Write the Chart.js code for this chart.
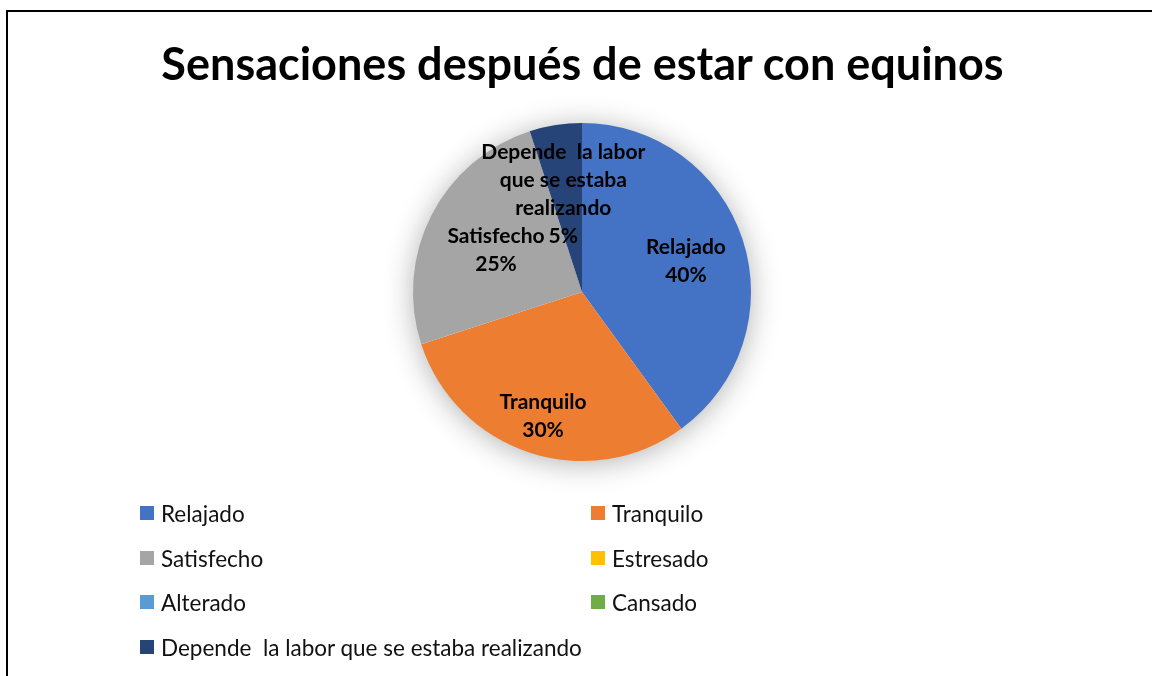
<!DOCTYPE html>
<html>
<head>
<meta charset="utf-8">
<script src="https://cdn.jsdelivr.net/npm/chart.js@4"></script>
<style>
  body { margin:0; background:#fff; font-family: Lato, "Open Sans", sans-serif; overflow:hidden; }
  #wrap { position:relative; width:1152px; height:676px; overflow:hidden; }
  #frame { position:absolute; left:6px; top:10px; width:1400px; height:900px; border:2px solid #000; border-right:none; border-bottom:none; box-sizing:border-box; }
  #title { position:absolute; left:0; top:38px; width:1165px; text-align:center; font-weight:bold; font-size:45px; line-height:50px; color:#000; }
  canvas { position:absolute; left:0; top:0; }
  .leg { position:absolute; font-size:22.5px; color:#111; line-height:24px; white-space:pre; }
  .leg span { position:absolute; left:0; top:0; width:14px; height:14px; }
  .leg b { font-weight:normal; position:absolute; left:21px; top:-4px; }
</style>
</head>
<body>
<div id="wrap">
  <div id="frame"></div>
  <canvas id="mycanvas1" width="1152" height="676"></canvas>
  <div id="title">Sensaciones después de estar con equinos</div>
  <div id="legend"></div>
</div>
<script>
var categorias = ["Relajado", "Tranquilo", "Satisfecho", "Estresado", "Alterado", "Cansado", "Depende  la labor que se estaba realizando"];
var porcentajes = [40, 30, 25, 0, 0, 0, 5];
var colores = ["#4472C4", "#ED7D31", "#A5A5A5", "#FFC000", "#5B9BD5", "#70AD47", "#264478"];
var etiquetas = [
	["Relajado", "40%"],
	["Tranquilo", "30%"],
	["Satisfecho", "25%"],
	[], [], [],
	["Depende  la labor", "que se estaba", "realizando", "5%"]
];

// where each label sits: fraction of radius, and a small angle nudge (deg)
var labelDist = [0.642, 0.772, 0.566, 0, 0, 0, 0.59];
var labelNudge = [1.4, -0.6, -1, 0, 0, 0, -1.8];

var sombra = {
	id: 'sombra',
	beforeDatasetsDraw: function(chart) {
		var arc = chart.getDatasetMeta(0).data[0];
		var ctx = chart.ctx;
		ctx.save();
		ctx.shadowColor = "rgba(0,0,0,0.32)";
		ctx.shadowBlur = 30;
		ctx.shadowOffsetY = 3;
		ctx.fillStyle = "#fff";
		ctx.beginPath();
		ctx.arc(arc.x, arc.y, arc.outerRadius - 1, 0, Math.PI * 2);
		ctx.fill();
		ctx.restore();
	}
};

var rotulos = {
	id: 'rotulos',
	afterDatasetsDraw: function(chart) {
		var ctx = chart.ctx;
		var meta = chart.getDatasetMeta(0);
		ctx.save();
		ctx.font = "bold 21px Lato";
		ctx.fillStyle = "#000";
		ctx.textAlign = "center";
		ctx.textBaseline = "middle";
		meta.data.forEach(function(arc, i) {
			var lines = etiquetas[i];
			if (!porcentajes[i] || !lines.length) return;
			var mid = (arc.startAngle + arc.endAngle) / 2 + labelNudge[i] * Math.PI / 180;
			var r = arc.outerRadius * labelDist[i];
			var x = arc.x + Math.cos(mid) * r;
			var y = arc.y + Math.sin(mid) * r;
			var lh = 28;
			var y0 = y - (lines.length - 1) * lh / 2;
			lines.forEach(function(t, k) {
				ctx.fillText(t, x, y0 + k * lh);
			});
		});
		ctx.restore();
	}
};

var ctx = document.getElementById("mycanvas1");
var PieGraph = new Chart(ctx, {
	type: 'pie',
	data: {
		labels: categorias,
		datasets: [{
			data: porcentajes,
			backgroundColor: colores,
			borderWidth: 0
		}]
	},
	options: {
		responsive: false,
		animation: false,
		layout: { padding: { top: 123, bottom: 215, left: 12, right: 0 } },
		plugins: {
			legend: { display: false },
			tooltip: { enabled: false }
		}
	},
	plugins: [sombra, rotulos]
});

// legend in two columns, like the original
var leg = document.getElementById("legend");
var colX = [140, 591];
var rowY = [506, 551, 595, 640];
categorias.forEach(function(c, i) {
	var d = document.createElement("div");
	d.className = "leg";
	d.style.left = colX[i % 2] + "px";
	d.style.top = rowY[Math.floor(i / 2)] + "px";
	d.innerHTML = '<span style="background:' + colores[i] + '"></span><b></b>';
	d.querySelector("b").textContent = c;
	leg.appendChild(d);
});
</script>
</body>
</html>
